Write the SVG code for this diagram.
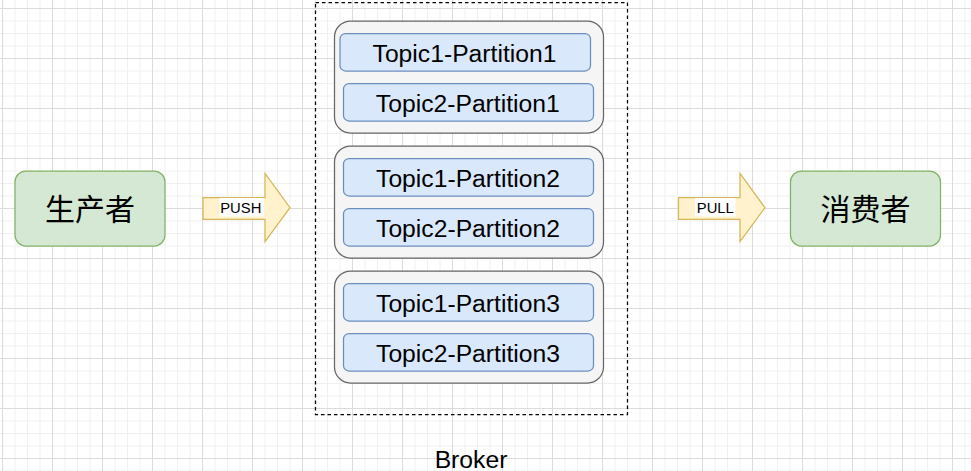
<svg xmlns="http://www.w3.org/2000/svg" width="971" height="471" viewBox="0 0 971 471">
<defs>
<pattern id="grid" patternUnits="userSpaceOnUse" x="2" y="8" width="50" height="50">
<path d="M13 0V50M25.5 0V50M38 0V50M0 13H50M0 25.5H50M0 38H50" stroke="#f0f0f0" stroke-width="1" fill="none"/>
<path d="M0.5 0V50M0 0.5H50" stroke="#dcdcdc" stroke-width="1" fill="none"/>
</pattern>
</defs>
<style>
.grp{fill:#f5f5f5;stroke:#666666;stroke-width:1.25}
.part{fill:#dae8fc;stroke:#6c8ebf;stroke-width:1.25}
.pt{font-family:"Liberation Sans",Arial,sans-serif;font-size:24.7px;fill:#000;text-anchor:middle}
.actor{fill:#d5e8d4;stroke:#82b366;stroke-width:1.25}
.cjk{font-family:"Liberation Sans","Noto Sans CJK SC",sans-serif;font-size:30px;fill:#000;text-anchor:middle}
.arrow{fill:#fff2cc;stroke:#d6b656;stroke-width:1.25}
.lbl{font-family:"Liberation Sans",Arial,sans-serif;font-size:14.8px;fill:#000;text-anchor:middle}
</style>
<rect width="971" height="471" fill="#ffffff"/>
<rect width="971" height="471" fill="url(#grid)"/>

<g id="broker">
<rect x="315.5" y="2.5" width="312" height="412" fill="none" stroke="#000" stroke-width="1.25" stroke-dasharray="3.5 3"/>
<text class="pt" x="471" y="467.5">Broker</text>
</g>

<g id="group1">
<rect class="grp" x="334.5" y="21" width="269" height="112" rx="16" ry="16"/>
</g>
<g id="t1p1">
<rect class="part" x="340" y="33.5" width="250.5" height="37.5" rx="5.6" ry="5.6"/>
<text class="pt" x="464.5" y="62.3">Topic1-Partition1</text>
</g>
<g id="t2p1">
<rect class="part" x="343.5" y="83.5" width="250" height="37.5" rx="5.6" ry="5.6"/>
<text class="pt" x="467.8" y="111.8">Topic2-Partition1</text>
</g>

<g id="group2">
<rect class="grp" x="334.5" y="146" width="269" height="112" rx="16" ry="16"/>
</g>
<g id="t1p2">
<rect class="part" x="343.5" y="158.5" width="250" height="37.5" rx="5.6" ry="5.6"/>
<text class="pt" x="468" y="187.3">Topic1-Partition2</text>
</g>
<g id="t2p2">
<rect class="part" x="343.5" y="208.5" width="250" height="37.5" rx="5.6" ry="5.6"/>
<text class="pt" x="468" y="237.3">Topic2-Partition2</text>
</g>

<g id="group3">
<rect class="grp" x="334.5" y="271" width="269" height="112" rx="16" ry="16"/>
</g>
<g id="t1p3">
<rect class="part" x="343.5" y="283.5" width="250" height="37.5" rx="5.6" ry="5.6"/>
<text class="pt" x="468" y="312.3">Topic1-Partition3</text>
</g>
<g id="t2p3">
<rect class="part" x="343.5" y="333.5" width="250" height="37.5" rx="5.6" ry="5.6"/>
<text class="pt" x="468" y="362.3">Topic2-Partition3</text>
</g>

<g id="producer">
<rect class="actor" x="15" y="171" width="150" height="75" rx="11" ry="11"/>
<text class="cjk" x="90" y="220">生产者</text>
</g>
<g id="consumer">
<rect class="actor" x="790.5" y="171" width="150" height="75" rx="11" ry="11"/>
<text class="cjk" x="865.5" y="220">消费者</text>
</g>

<g id="connectors">
<g id="push">
<path class="arrow" d="M203 197.7H265V173.5L290 207.7L265 241.7V219.3H203Z"/>
<rect x="219.5" y="198" width="44" height="18.5" fill="#ffffff"/>
<text class="lbl" x="240.8" y="213.3">PUSH</text>
</g>
<g id="pull">
<path class="arrow" d="M678.5 197.7H740V173.5L765 207.7L740 241.7V219.3H678.5Z"/>
<rect x="695" y="198" width="40.5" height="18.5" fill="#ffffff"/>
<text class="lbl" x="715.3" y="213.3">PULL</text>
</g>
</g>
</svg>
